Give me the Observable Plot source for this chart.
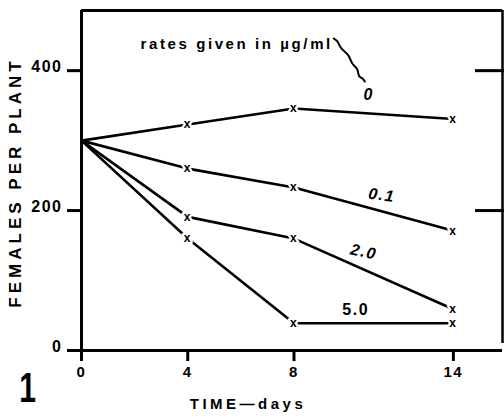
<!DOCTYPE html>
<html><head><meta charset="utf-8">
<script src="https://cdn.jsdelivr.net/npm/d3@7"></script>
<script src="https://cdn.jsdelivr.net/npm/@observablehq/plot@0.6"></script>
<style>body{margin:0;background:#fff}</style>
</head><body><div id="chart"></div>
<script>
// ---- data ----
const days = [0, 4, 8, 14];
const rates = ["0", "0.1", "2.0", "5.0"];
const rate0 = [300, 323, 346, 331];
const rate01 = [300, 260, 233, 171];
const rate2 = [300, 191, 160, 59];
const rate5 = [300, 160, 39, 39];
const xTicks = [0, 4, 8, 14];
const yTicks = [0, 200, 400];
const rightTicks = [200, 400];
const note = "rates given in \u00b5g/ml";
const xLabel = "TIME\u2014days";
const yLabel = "FEMALES PER PLANT";
const figNo = "1";

const xMax = 15.85, yMax = 486;
const series = [rate0, rate01, rate2, rate5];
const rows = series.flatMap((vals, s) => vals.map((v, i) => ({rate: rates[s], day: days[i], value: v})));
const markers = rows.filter(d => d.day > 0);

// label styling per series (placed at the middle of the last segment)
const labelStyle = [
  {dx: -5, dy: -19, rotate: 0, fontStyle: "italic"},
  {dx: 8, dy: -14, rotate: 8, fontStyle: "italic"},
  {dx: -10, dy: -22, rotate: 12, fontStyle: "italic"},
  {dx: -18, dy: -13, rotate: 0, fontStyle: "normal"}
];
const labelMarks = series.map((vals, s) => Plot.text([rates[s]], {
  x: () => (days[2] + days[3]) / 2,
  y: () => (vals[2] + vals[3]) / 2,
  text: d => d,
  fontSize: 16,
  ...labelStyle[s]
}));

// squiggly pointer from the note to the "0" label
function squiggle(index, scales) {
  const cx = scales.x((days[2] + days[3]) / 2) + labelStyle[0].dx;
  const cy = scales.y((rate0[2] + rate0[3]) / 2) + labelStyle[0].dy;
  const offs = [[-35,-56],[-31,-53],[-27,-46],[-20,-39],[-16,-31],[-11,-25],[-9,-18],[-5,-15],[-3,-12]];
  const path = d3.line().curve(d3.curveCatmullRom)(offs.map(([a,b]) => [cx + a, cy + b]));
  return d3.create("svg:path").attr("d", path).attr("fill", "none").attr("stroke", "black").attr("stroke-width", 2).node();
}

const chart = Plot.plot({
  width: 504, height: 419,
  marginLeft: 81, marginRight: 2, marginTop: 10, marginBottom: 69,
  style: {fontFamily: "'Liberation Sans', Arial, sans-serif", fontWeight: "bold", background: "white", letterSpacing: "1.5px"},
  x: {domain: [0, xMax], axis: null},
  y: {domain: [0, yMax], axis: null},
  marks: [
    // frame pieces
    Plot.ruleY([yMax], {strokeWidth: 3}),
    Plot.ruleX([0], {strokeWidth: 3}),
    Plot.ruleX([xMax], {strokeWidth: 2.5, insetBottom: 7}),
    Plot.ruleY([0], {strokeWidth: 3, insetLeft: -13}),
    Plot.ruleY(rightTicks, {strokeWidth: 3, insetLeft: 394, insetRight: -2}),
    // axes
    Plot.axisY(yTicks, {tickSize: 14, strokeWidth: 3, tickFormat: () => "", label: null}),
    Plot.axisY(yTicks, {tickSize: 0, tickPadding: 19, dy: -4, fontSize: 16, label: null}),
    Plot.axisX(xTicks, {tickSize: 11, strokeWidth: 3, tickFormat: () => "", label: null}),
    Plot.axisX(xTicks, {tickSize: 0, tickPadding: 16, fontSize: 15, label: null}),
    // data
    Plot.line(rows, {x: "day", y: "value", z: "rate", stroke: "black", strokeWidth: 2.6}),
    Plot.text(markers, {x: "day", y: "value", text: () => "x", fontSize: 12, stroke: "white", strokeWidth: 5, fill: "black", paintOrder: "stroke"}),
    ...labelMarks,
    // annotation
    Plot.text([note], {frameAnchor: "top-left", dx: 59, dy: 28, text: d => d, textAnchor: "start", fontSize: 15}),
    squiggle,
    // axis titles and figure number
    Plot.text([yLabel], {frameAnchor: "left", dx: -66, dy: 2, text: d => d, rotate: -90, textAnchor: "middle", fontSize: 17}),
    Plot.text([xLabel], {frameAnchor: "bottom", dx: -44, dy: 58, text: d => d, textAnchor: "middle", fontSize: 15}),
    Plot.text([figNo], {frameAnchor: "bottom-left", dx: -54, dy: 51, text: d => d, textAnchor: "middle", fontSize: 43})
  ]
});

document.getElementById("chart").append(chart);

// typographic touches: letter spacing and a narrow figure number
const spacing = new Map([[note, "2.6px"], [yLabel, "4px"], [xLabel, "3.5px"]]);
d3.select(chart).selectAll("text").each(function () {
  const t = this.textContent;
  if (spacing.has(t)) this.style.letterSpacing = spacing.get(t);
  if (t === figNo) {
    this.style.letterSpacing = "0px";
    const r = this.getBoundingClientRect();
    const parent = this.parentNode;
    const pt = chart.createSVGPoint();
    pt.x = r.x + r.width / 2; pt.y = r.y + r.height / 2;
    const p = pt.matrixTransform(parent.getScreenCTM().inverse());
    const g = document.createElementNS("http://www.w3.org/2000/svg", "g");
    g.setAttribute("transform", `translate(${p.x},0) scale(0.7,1) translate(${-p.x},0)`);
    parent.insertBefore(g, this);
    g.appendChild(this);
  }
});
</script>
</body></html>
